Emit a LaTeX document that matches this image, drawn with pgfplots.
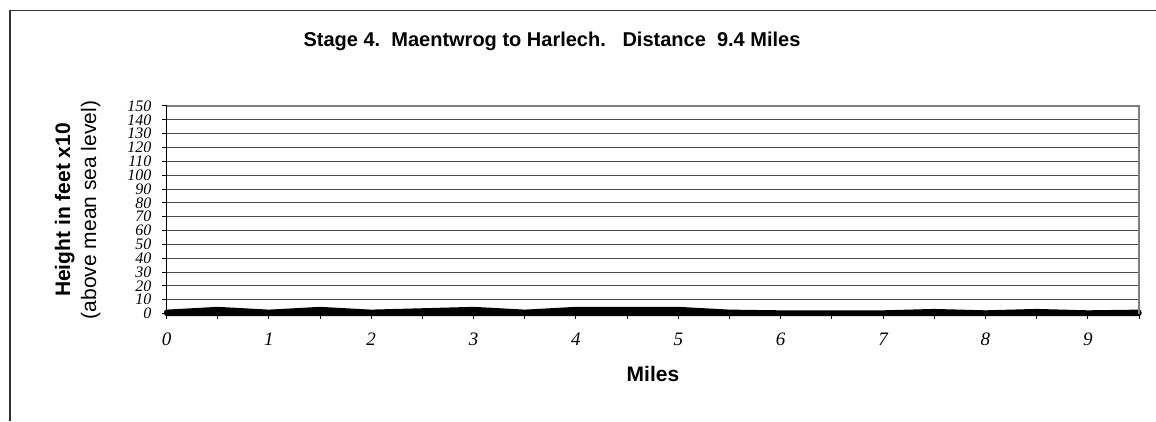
\documentclass[border=0pt]{standalone}
\usepackage{pgfplots}
\pgfplotsset{compat=1.18}
\usepackage{fontspec}
\setmainfont{Liberation Serif}
\newfontfamily\arial{Liberation Sans}
\definecolor{gridgray}{gray}{0.3}
\definecolor{framegray}{gray}{0.5}
\definecolor{areablue}{RGB}{96,96,170}

\begin{document}
\begin{tikzpicture}[x=1pt,y=1pt]
\path[use as bounding box] (0,0) rectangle (1156,421);
% outer chart frame (left and top only visible)
\draw[black!80, line width=1.2pt] (10,0) -- (10,410.5) -- (1160,410.5);

\begin{axis}[
    at={(166.5pt,107.5pt)}, anchor=south west,
    width=972.5pt, height=207.5pt, scale only axis,
    xmin=0, xmax=9.5, ymin=0, ymax=150,
    axis x line*=bottom, axis y line*=left,
    axis line style={black, line width=1pt},
    xtick={0,0.5,...,9.5},
    xticklabels={0,,1,,2,,3,,4,,5,,6,,7,,8,,9,},
    ytick={0,10,...,150},
    ymajorgrids,
    grid style={gridgray, line width=0.8pt},
    tick align=outside,
    major tick length=5pt,
    tick style={black, line width=1pt},
    /pgf/number format/assume math mode=true,
    xticklabel style={font=\fontsize{19}{19}\selectfont\itshape, anchor=north, yshift=-11pt},
    yticklabel style={font=\fontsize{16}{16}\selectfont\itshape, anchor=east, xshift=-9pt, inner sep=1pt},
    clip=false,
]
% elevation profile, stage 4
\addplot[draw=black, line width=5pt, fill=areablue, line join=round] coordinates {
    (0,1)(0.5,3)(1,1)(1.5,3)(2,1)(2.5,2)(3,3)(3.5,1)(4,3)(4.5,3)
    (5,3)(5.5,1)(6,0.5)(6.5,0.5)(7,0.5)(7.5,1.5)(8,0.5)(8.5,1.5)(9,0.5)(9.5,1)
} \closedcycle;
\draw[framegray, line width=2.5pt] (axis cs:0,150) -- (axis cs:9.5,150) -- (axis cs:9.5,0);
\end{axis}

\node[font=\arial\bfseries\fontsize{20}{24}\selectfont, anchor=base] at (552,374)
    {Stage 4.\ \ Maentwrog to Harlech.\ \ \ Distance\ \ 9.4 Miles};
\node[font=\arial\bfseries\fontsize{21}{24}\selectfont, anchor=base] at (653,40) {Miles};
\node[font=\arial\bfseries\fontsize{21}{24}\selectfont, anchor=base, rotate=90] at (70,211) {Height in feet x10};
\node[font=\arial\fontsize{21}{24}\selectfont, anchor=base, rotate=90] at (96,211) {(above mean sea level)};
\end{tikzpicture}
\end{document}
